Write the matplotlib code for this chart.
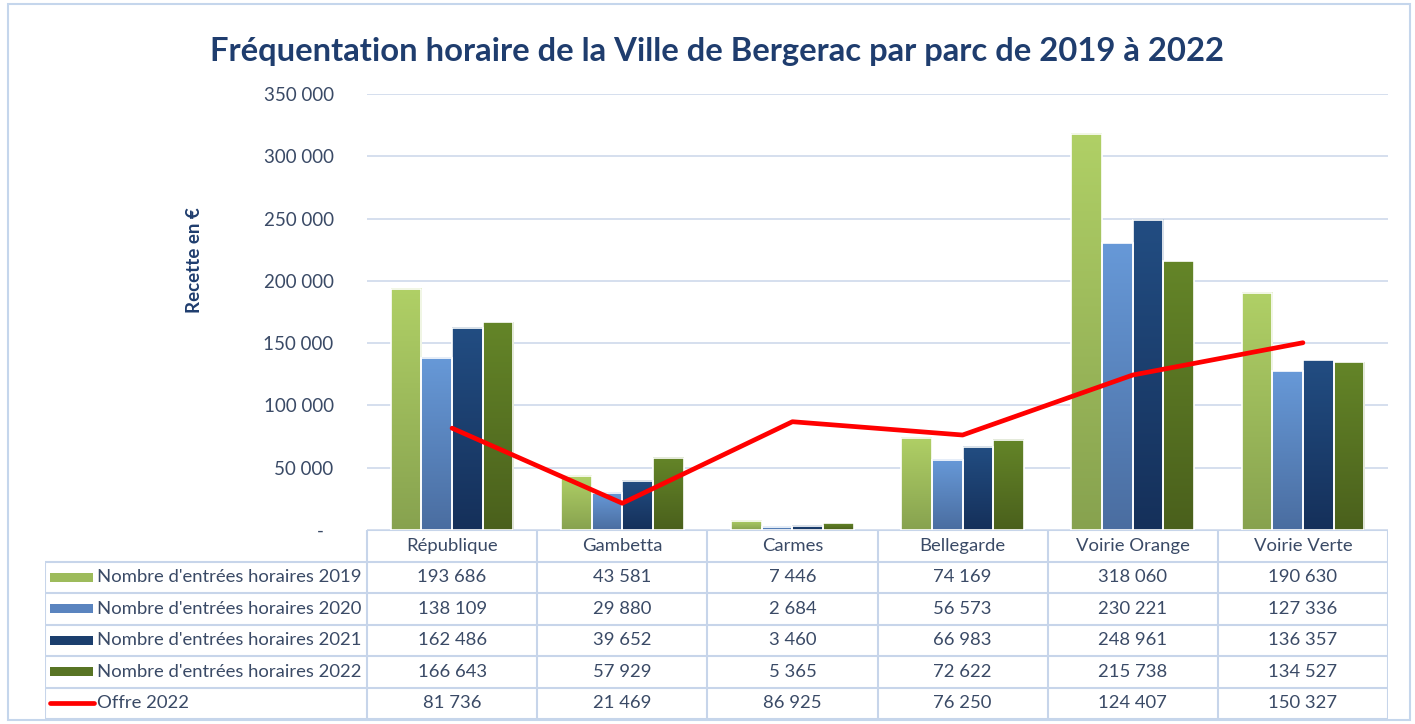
import numpy as np
import matplotlib
matplotlib.use("Agg")
import matplotlib.pyplot as plt
from matplotlib.colors import LinearSegmentedColormap
from matplotlib.patches import Rectangle

# Data
parcs = ["République", "Gambetta", "Carmes", "Bellegarde", "Voirie Orange", "Voirie Verte"]
entrees_2019 = [193686, 43581, 7446, 74169, 318060, 190630]
entrees_2020 = [138109, 29880, 2684, 56573, 230221, 127336]
entrees_2021 = [162486, 39652, 3460, 66983, 248961, 136357]
entrees_2022 = [166643, 57929, 5365, 72622, 215738, 134527]
offre_2022 = [81736, 21469, 86925, 76250, 124407, 150327]
series_labels = ["Nombre d'entrées horaires 2019", "Nombre d'entrées horaires 2020",
                 "Nombre d'entrées horaires 2021", "Nombre d'entrées horaires 2022",
                 "Offre 2022"]
y_ticks = [0, 50000, 100000, 150000, 200000, 250000, 300000, 350000]

plt.rcParams['font.family'] = ['Lato', 'DejaVu Sans']

bar_series = [entrees_2019, entrees_2020, entrees_2021, entrees_2022]
# (bottom colour, top colour) for the vertical gradient of each series
bar_colors = [("#87A24F", "#B0D066"), ("#4A6DA0", "#6799D8"),
              ("#15305A", "#224D82"), ("#4A601C", "#648528")]
swatch_colors = ["#9DBB5B", "#5A84BF", "#1B3E6D", "#587424"]
line_color = "#FF0000"
text_color = "#3A4A66"
grid_color = "#D5DFEE"
table_color = "#C7D5EA"

W, H = 1415, 724
fig = plt.figure(figsize=(W / 100, H / 100), dpi=100)

# outer frame
fig.patches.append(Rectangle((8 / W, 4 / H), 1402 / W, 716 / H, transform=fig.transFigure,
                             fill=False, edgecolor="#C5D6EC", lw=1.5))

ax_l, ax_r, ax_t, ax_b = 367, 1388, 94, 530
ax = fig.add_axes([ax_l / W, (H - ax_b) / H, (ax_r - ax_l) / W, (ax_b - ax_t) / H])

n = len(parcs)
centers = np.arange(n) + 0.5
bw = 0.18
offsets = [-1.5 * bw, -0.5 * bw, 0.5 * bw, 1.5 * bw]
grad = np.linspace(0, 1, 256).reshape(-1, 1)

for k, vals in enumerate(bar_series):
    bars = ax.bar(centers + offsets[k], vals, width=bw, facecolor="none",
                  edgecolor="white", lw=1.2, zorder=3)
    cmap = LinearSegmentedColormap.from_list(f"g{k}", bar_colors[k])
    for rect in bars:
        x0, w, h = rect.get_x(), rect.get_width(), rect.get_height()
        ax.imshow(grad, cmap=cmap, extent=(x0, x0 + w, 0, h), origin="lower",
                  aspect="auto", interpolation="bilinear", zorder=2)

ax.plot(centers, offre_2022, color=line_color, lw=3.4, solid_capstyle="round", zorder=4)

ax.set_xlim(0, n)
ax.set_ylim(0, 350000)
ax.set_xticks([])
ax.set_yticks(y_ticks)
ax.set_yticklabels(["-  "] + [f"{v:,}".replace(",", " ") for v in y_ticks[1:]],
                   color=text_color, fontsize=13.5)
ax.tick_params(axis="y", length=0, pad=24)
ax.yaxis.grid(True, color=grid_color, lw=1.4)
ax.set_axisbelow(True)
for s in ax.spines.values():
    s.set_visible(False)

fig.text(195 / W, (H - 260) / H, "Recette en €", rotation=90, ha="center", va="center",
         fontweight="bold", color="#1F3D6E", fontsize=13.5)

fig.text(717 / W, (H - 51) / H, "Fréquentation horaire de la Ville de Bergerac par parc de 2019 à 2022",
         ha="center", va="center", fontsize=23.6, fontweight="bold", color="#1F3D6E")

# data table under the chart
unit = (ax_r - ax_l) / n
tb_l, tb_b = 45, 719
tax = fig.add_axes([tb_l / W, (H - tb_b) / H, (ax_r - tb_l) / W, (tb_b - ax_b) / H])
xl = -(ax_l - tb_l) / unit
tax.set_xlim(xl, n)
tax.set_ylim(6, 0)
tax.axis("off")

tax.hlines(0, 0, n, color=table_color, lw=1.5)
tax.hlines(np.arange(1, 7), xl, n, color=table_color, lw=1.5)
tax.vlines(np.arange(0, n + 1), 0, 6, color=table_color, lw=1.5)
tax.vlines(xl, 1, 6, color=table_color, lw=1.5)

for i, name in enumerate(parcs):
    tax.text(i + 0.5, 0.5, name, ha="center", va="center", color=text_color, fontsize=13.3)

all_series = bar_series + [offre_2022]
px = lambda p: (p - ax_l) / unit
for k, vals in enumerate(all_series):
    y = k + 1.5
    for i, v in enumerate(vals):
        tax.text(i + 0.5, y, f"{v:,}".replace(",", " "), ha="center", va="center",
                 color=text_color, fontsize=13.3)
    if k < 4:
        tax.add_patch(Rectangle((px(50), y - 0.14), px(93) - px(50), 0.28,
                                facecolor=swatch_colors[k], edgecolor="none"))
    else:
        tax.plot([px(50), px(94)], [y, y], color=line_color, lw=3.4, solid_capstyle="round")
    tax.text(px(97), y, series_labels[k], ha="left", va="center", color=text_color, fontsize=13.3)

fig.savefig("out.png", dpi=100)
